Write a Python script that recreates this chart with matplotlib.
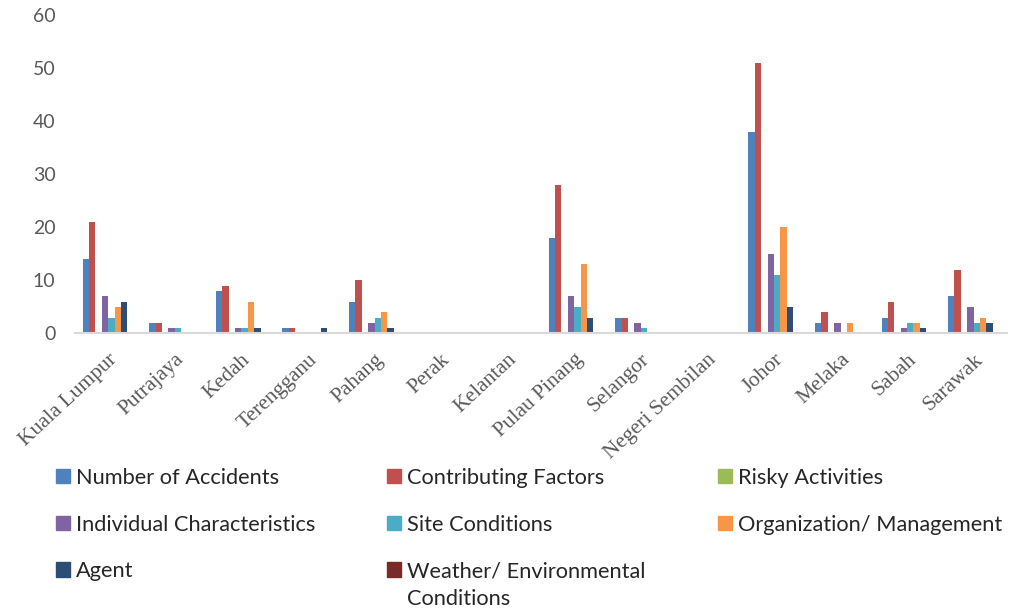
import matplotlib
matplotlib.use('Agg')
import matplotlib.pyplot as plt
from matplotlib.patches import Rectangle
import numpy as np

# states along the x axis
states = ['Kuala Lumpur', 'Putrajaya', 'Kedah', 'Terengganu', 'Pahang', 'Perak',
          'Kelantan', 'Pulau Pinang', 'Selangor', 'Negeri Sembilan', 'Johor',
          'Melaka', 'Sabah', 'Sarawak']

# counts per state, one list per series
accidents       = [14, 2, 8, 1, 6, 0, 0, 18, 3, 0, 38, 2, 3, 7]
contributing    = [21, 2, 9, 1, 10, 0, 0, 28, 3, 0, 51, 4, 6, 12]
risky           = [0, 0, 0, 0, 0, 0, 0, 0, 0, 0, 0, 0, 0, 0]
individual      = [7, 1, 1, 0, 2, 0, 0, 7, 2, 0, 15, 2, 1, 5]
site            = [3, 1, 1, 0, 3, 0, 0, 5, 1, 0, 11, 0, 2, 2]
organization    = [5, 0, 6, 0, 4, 0, 0, 13, 0, 0, 20, 2, 2, 3]
agent           = [6, 0, 1, 1, 1, 0, 0, 3, 0, 0, 5, 0, 1, 2]
weather         = [0, 0, 0, 0, 0, 0, 0, 0, 0, 0, 0, 0, 0, 0]

series_names = ['Number of Accidents', 'Contributing Factors', 'Risky Activities',
                'Individual Characteristics', 'Site Conditions',
                'Organization/ Management', 'Agent',
                'Weather/ Environmental']
series_vals = [accidents, contributing, risky, individual, site,
               organization, agent, weather]
series_cols = ['#4F81BD', '#C0504D', '#9BBB59', '#8064A2', '#4BACC6',
               '#F79646', '#2C4D75', '#772C2A']

fig = plt.figure(figsize=(10.12, 6.09), dpi=100)
ax = fig.add_axes([0.0741, 0.4524, 0.9209, 0.523])

x = np.arange(len(states))
w = 0.096
for i, (vals, col) in enumerate(zip(series_vals, series_cols)):
    ax.bar(x + (i - 3.5) * w, vals, width=w, color=col, linewidth=0)

ax.set_xlim(-0.5, len(states) - 0.5)
ax.set_ylim(0, 60)
ax.set_yticks(range(0, 61, 10))
ax.tick_params(axis='y', length=0, pad=14, labelsize=14, labelcolor='#595959')
for lbl in ax.get_yticklabels():
    lbl.set_family('Lato')

ax.set_xticks(x)
ax.set_xticklabels(states, rotation=43, ha='right', va='top',
                   rotation_mode='anchor', family='Liberation Serif',
                   fontsize=15.5, color='#595959')
ax.tick_params(axis='x', length=0, pad=12)

for s in ['top', 'right', 'left']:
    ax.spines[s].set_visible(False)
ax.spines['bottom'].set_color('#D9D9D9')
ax.spines['bottom'].set_linewidth(1.5)

# legend reads across rows in three columns
handles = [Rectangle((0, 0), 1, 1, color=c) for c in series_cols]
order = [0, 3, 6, 1, 4, 7, 2, 5]
leg = fig.legend([handles[k] for k in order], [series_names[k] for k in order],
                 loc='upper left', bbox_to_anchor=(0.0553, 0.232), ncol=3,
                 frameon=False, borderpad=0, borderaxespad=0,
                 handlelength=0.64, handleheight=0.64, handletextpad=0.28,
                 columnspacing=3.3, labelspacing=1.23,
                 prop={'family': 'Lato', 'size': 15.7})
for t in leg.get_texts():
    t.set_color('#262626')

# second line of the weather label, under its first line
fig.canvas.draw()
wtxt = [t for t in leg.get_texts() if t.get_text().startswith('Weather')][0]
bb = wtxt.get_window_extent().transformed(fig.transFigure.inverted())
fig.text(bb.x0, bb.y0 - 0.045, 'Conditions', family='Lato', fontsize=15.7,
         color='#262626', ha='left', va='bottom')

fig.savefig('out.png', dpi=100)
